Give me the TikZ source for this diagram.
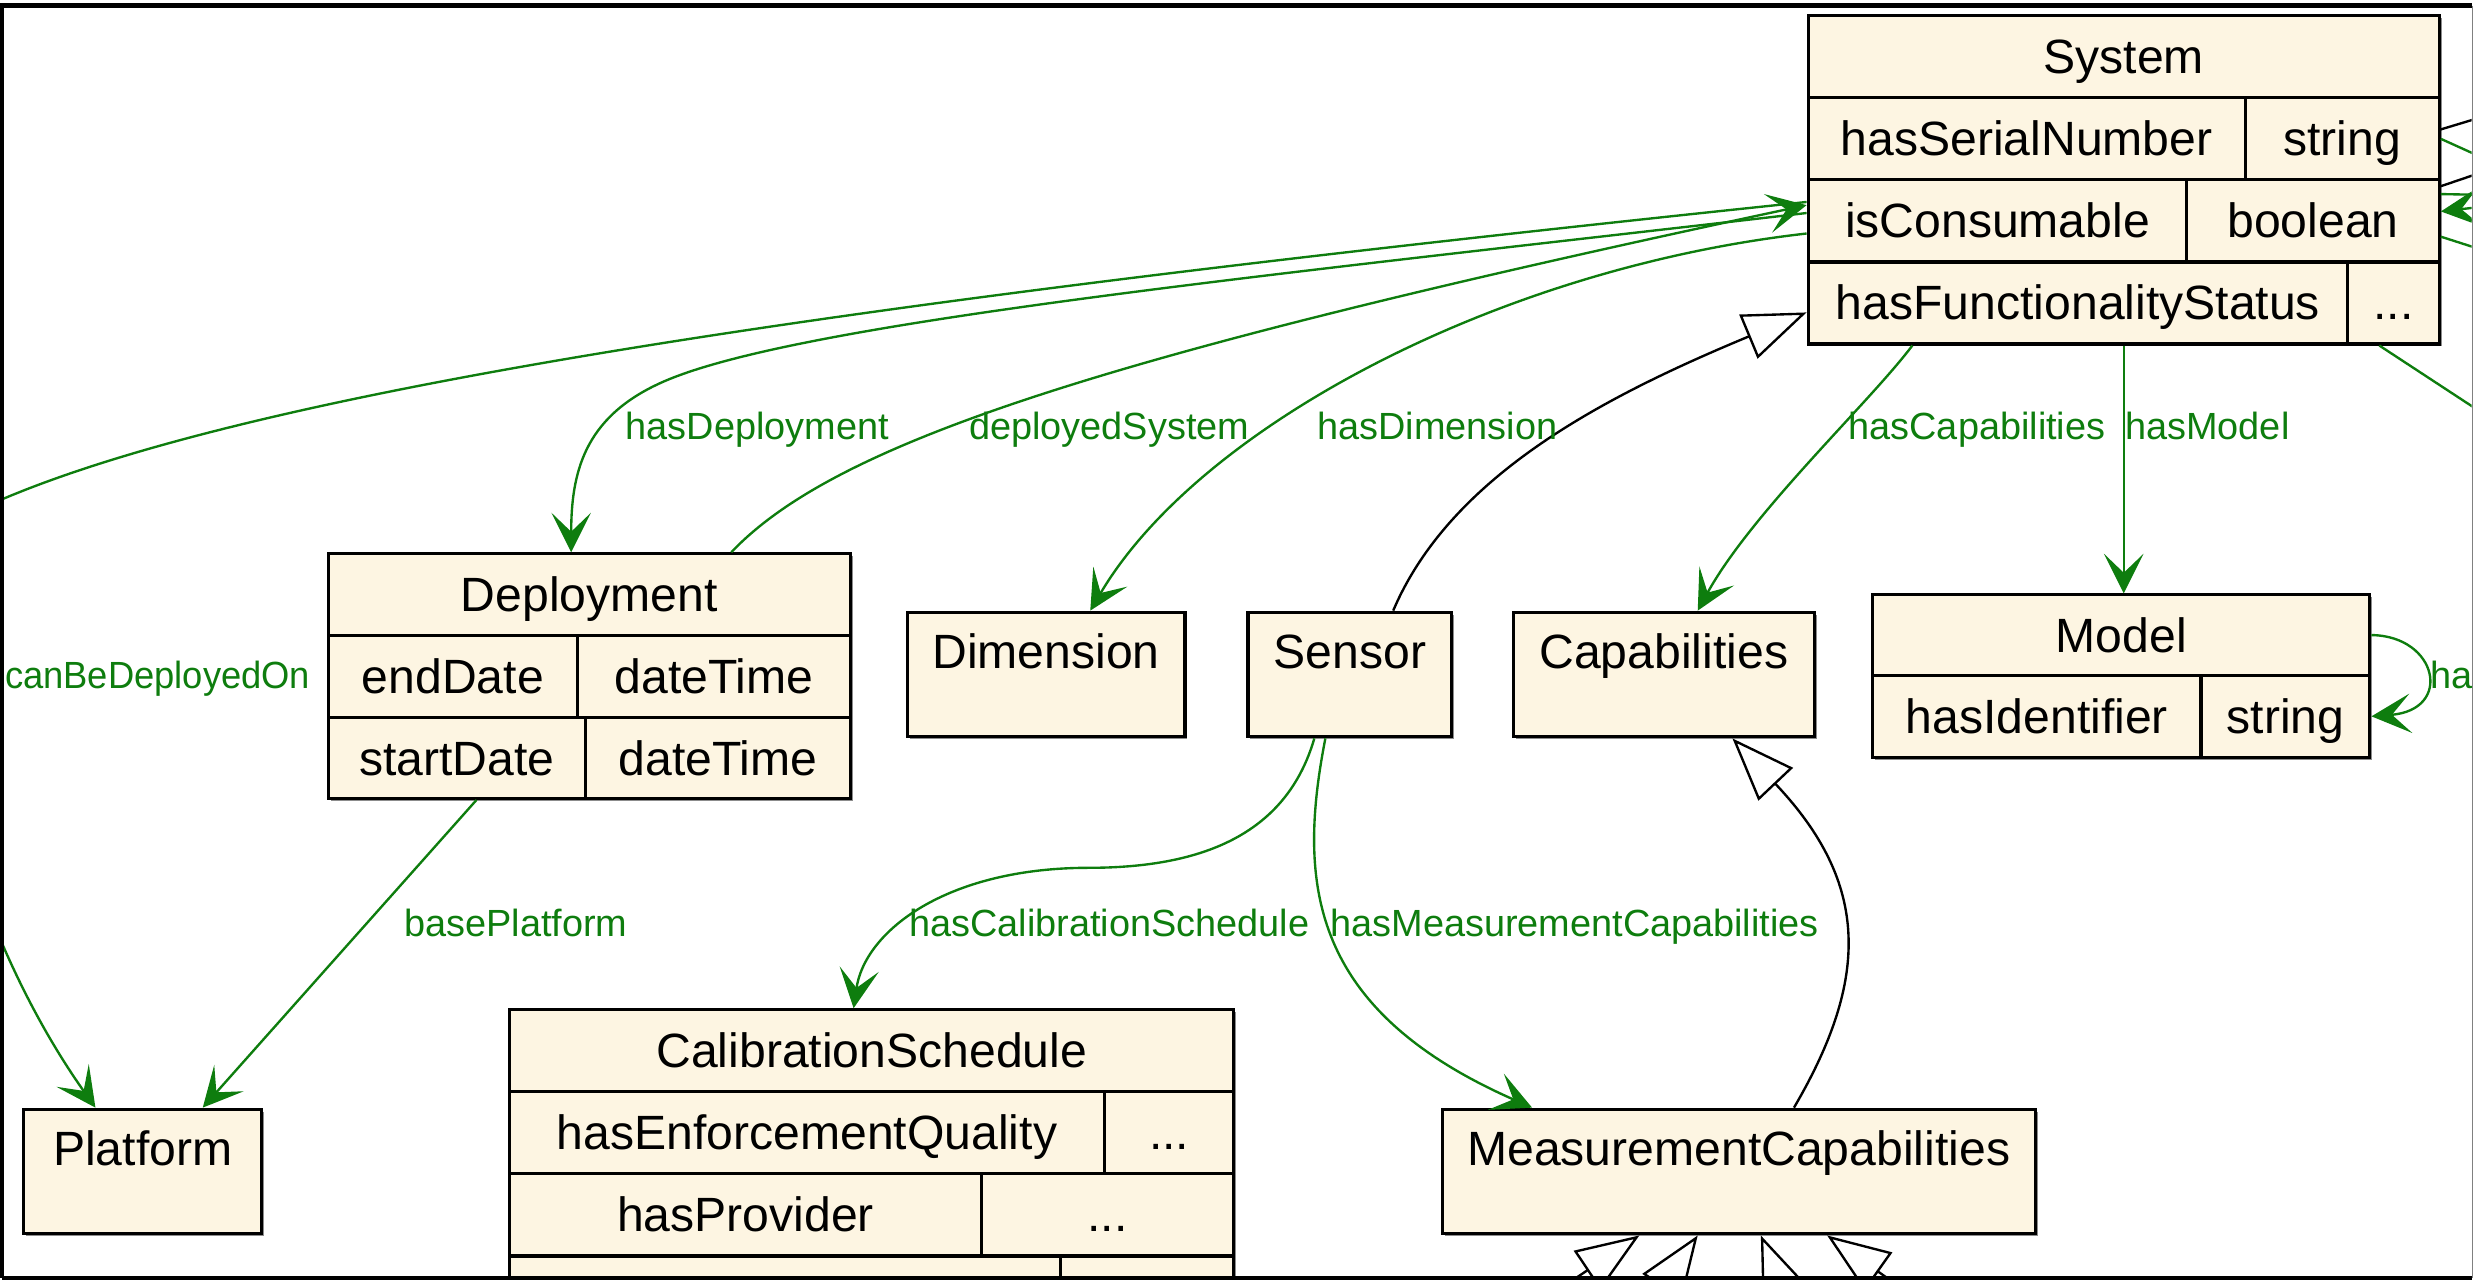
\documentclass[tikz,border=0pt]{standalone}
\usepackage{fontspec}
\setmainfont{Liberation Sans}
\usetikzlibrary{arrows.meta}
\usetikzlibrary{shadows}

\definecolor{classfill}{HTML}{FDF5E2}
\definecolor{relgreen}{HTML}{0E7D0E}

\newcommand{\clsfont}{\fontsize{30.5}{36}\selectfont}
\newcommand{\lblfont}{\fontsize{24}{28}\selectfont}

\tikzset{
  clsrow/.style={draw, fill=classfill, line width=2pt, inner sep=0pt,
    minimum height=52pt, text height=21.5pt, text depth=0pt, font=\clsfont,
    drop shadow={shadow xshift=1.5pt, shadow yshift=-1.5pt, fill=black, opacity=0.45}},
  clsbox/.style={clsrow, minimum height=79pt, text depth=29pt},
  lbl/.style={text=relgreen, font=\lblfont, inner sep=0pt, text height=17pt, text depth=0pt},
  rel/.style={draw=relgreen, line width=1.5pt, -{Stealth[length=25pt, width=25pt, inset=12pt]}},
  relstub/.style={draw=relgreen, line width=1.5pt},
  isa/.style={draw=black, line width=1.5pt, -{Triangle[open, length=40pt, width=30pt]}},
  isastub/.style={draw=black, line width=1.5pt},
}

\begin{document}
\begin{tikzpicture}[x=1pt, y=-1pt]
    \useasboundingbox (0,0) rectangle (1568,812);
    \begin{scope}
    \clip (1.5,4) rectangle (1566.5,809);

    % System
    \node[clsrow, minimum width=400pt] (sys) at (1346,36) {System};
    \node[clsrow, minimum width=277pt] (sysSN) at (1284.5,88) {hasSerialNumber};
    \node[clsrow, minimum width=123pt] (sysSNt) at (1484.5,88) {string};
    \node[clsrow, minimum width=240pt] (sysCons) at (1266,140) {isConsumable};
    \node[clsrow, minimum width=160pt] (sysConsT) at (1466,140) {boolean};
    \node[clsrow, minimum width=342pt] (sysFS) at (1317,192) {hasFunctionalityStatus};
    \node[clsrow, minimum width=58pt] (sysFSt) at (1517,192) {...};

    % Deployment
    \node[clsrow, minimum width=331pt] (dep) at (373.5,377) {Deployment};
    \node[clsrow, minimum width=158pt] (depEnd) at (287,429) {endDate};
    \node[clsrow, minimum width=173pt] (depEndT) at (452.5,429) {dateTime};
    \node[clsrow, minimum width=163pt, minimum height=51pt] (depStart) at (289.5,480.5) {startDate};
    \node[clsrow, minimum width=168pt, minimum height=51pt] (depStartT) at (455,480.5) {dateTime};

    \node[clsbox, minimum width=176pt] (dim) at (663,427.5) {Dimension};
    \node[clsbox, minimum width=129pt] (sen) at (855.5,427.5) {Sensor};
    \node[clsbox, minimum width=191pt] (cap) at (1054.5,427.5) {Capabilities};

    % Model
    \node[clsrow, minimum width=315pt, minimum height=51pt] (mod) at (1344.5,402.5) {Model};
    \node[clsrow, minimum width=208pt] (modId) at (1291,454) {hasIdentifier};
    \node[clsrow, minimum width=107pt] (modIdT) at (1448.5,454) {string};

    \node[clsbox, minimum width=151pt] (plat) at (90.5,742.5) {Platform};
    \node[clsbox, minimum width=376pt] (meas) at (1102,742.5) {MeasurementCapabilities};

    % CalibrationSchedule
    \node[clsrow, minimum width=459pt] (cal) at (552.5,666) {CalibrationSchedule};
    \node[clsrow, minimum width=377pt] (calEQ) at (511.5,718) {hasEnforcementQuality};
    \node[clsrow, minimum width=82pt] (calEQt) at (741,718) {...};
    \node[clsrow, minimum width=299pt] (calPr) at (472.5,770) {hasProvider};
    \node[clsrow, minimum width=160pt] (calPrT) at (702,770) {...};
    \node[clsrow, minimum width=349pt] (calMF) at (497.5,822) {hasMinimumFrequency};
    \node[clsrow, minimum width=110pt] (calMFt) at (727,822) {string};

    % free ends outside the frame
    \coordinate (offBR) at (1598,278);
    \coordinate (offR1) at (1600,66);
    \coordinate (offR2) at (1600,112);
    \coordinate (offR3) at (1600,100);
    \coordinate (offR4) at (1600,124);
    \coordinate (offR5) at (1600,128);
    \coordinate (offR6) at (1600,167);
    \coordinate (sub1) at (960,836);
    \coordinate (sub2) at (1043,831);
    \coordinate (sub3) at (1138,837);
    \coordinate (sub4) at (1206,817);

    % relations
    \draw[rel] ([yshift=12pt]sysCons.west) .. controls (600,185) and (180,240) .. (0,317)
        .. controls (-80,342) and (-40,560) .. ([xshift=-30pt]plat.north);
    \draw[rel] ([yshift=5pt]sysCons.west) .. controls (800,175) and (500,205) .. (418,243)
        .. controls (370,265) and (362,300) .. ([xshift=-11.5pt]dep.north);
    \draw[rel] ([xshift=90pt]dep.north) .. controls (530,280) and (700,225) .. ([yshift=10pt]sysCons.west);
    \draw[rel] ([yshift=-8pt]sysCons.west) .. controls (950,170) and (760,270) .. ([xshift=28pt]dim.north);
    \draw[isa] ([xshift=27.5pt]sen.north) .. controls (920,300) and (1020,250) .. ([yshift=-6pt]sysFS.west);
    \draw[rel] ([xshift=-105pt]sysFS.south) .. controls (1185,255) and (1110,325) .. ([xshift=21.5pt]cap.north);
    \draw[rel] ([xshift=29pt]sysFS.south) -- ([xshift=1.5pt]mod.north);
    \draw[relstub] ([xshift=-9pt]sysFSt.south) -- (offBR);

    \draw[isastub] ([yshift=6pt]sysSNt.east) -- (offR1);
    \draw[relstub] (sysSNt.east) -- (offR2);
    \draw[isastub] ([yshift=22pt]sysConsT.east) -- (offR3);
    \draw[relstub] ([yshift=17pt]sysConsT.east) -- (offR4);
    \draw[rel] (offR5) -- ([yshift=6pt]sysConsT.east);
    \draw[relstub] ([yshift=-10pt]sysConsT.east) -- (offR6);

    \draw[rel] (mod.east) .. controls (1545,403) and (1555,450) .. (modIdT.east);

    \draw[rel] ([xshift=-22.5pt]sen.south) .. controls (815,530) and (760,550) .. (690,550)
        .. controls (600,550) and (548,590) .. ([xshift=-11.5pt]cal.north);
    \draw[rel] ([xshift=-15.5pt]sen.south) .. controls (822,560) and (830,640) .. ([xshift=-131pt]meas.north);
    \draw[isa] ([xshift=35pt]meas.north) .. controls (1185,620) and (1185,560) .. ([xshift=43.5pt]cap.south);
    \draw[rel] ([xshift=12.5pt]depStart.south) -- ([xshift=38pt]plat.north);

    \draw[isa] (sub1) -- ([xshift=-63pt]meas.south);
    \draw[isa] (sub2) -- ([xshift=-26pt]meas.south);
    \draw[isa] (sub3) -- ([xshift=14pt]meas.south);
    \draw[isa] (sub4) -- ([xshift=56pt]meas.south);

    % labels
    \node[lbl] (lDeploy) at (480,270) {hasDeployment};
    \node[lbl] (lDeployed) at (703,270) {deployedSystem};
    \node[lbl] (lDim) at (911,270) {hasDimension};
    \node[lbl] (lCap) at (1253,270) {hasCapabilities};
    \node[lbl] (lModel) at (1399,270) {hasModel};
    \node[lbl, anchor=west] (lCanDeploy) at (3,428) {\scalebox{0.96}[1]{canBeDeployedOn}};
    \node[lbl] (lBase) at (327,585) {basePlatform};
    \node[lbl] (lCalib) at (703,585) {hasCalibrationSchedule};
    \node[lbl] (lMeasCap) at (998,585) {hasMeasurementCapabilities};
    \node[lbl, anchor=west] (lHa) at (1540,428) {ha};
    \end{scope}

    % frame
    \draw[line width=3pt] (1,810) -- (1,3.5) -- (1567,3.5);
    \draw[line width=3pt] (1,810) -- (1567,810);
    \draw[gray, line width=1pt] (1567,3.5) -- (1567,810);
\end{tikzpicture}
\end{document}
